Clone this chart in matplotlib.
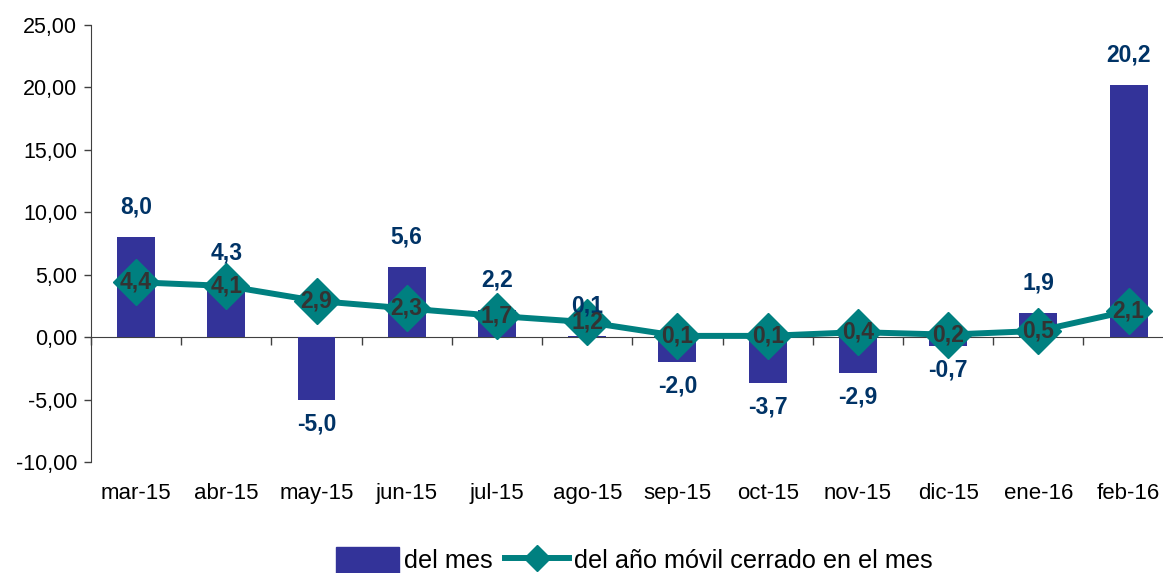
import matplotlib

matplotlib.use("Agg")
import matplotlib.pyplot as plt
import numpy as np
from matplotlib.lines import Line2D
from matplotlib.patches import Patch

plt.rcParams["font.family"] = ["Liberation Sans", "DejaVu Sans"]

# ── Data ──────────────────────────────────────────────
MONTHS = ["mar-15", "abr-15", "may-15", "jun-15", "jul-15", "ago-15",
          "sep-15", "oct-15", "nov-15", "dic-15", "ene-16", "feb-16"]
DEL_MES = [8.0, 4.3, -5.0, 5.6, 2.2, 0.1, -2.0, -3.7, -2.9, -0.7, 1.9, 20.2]
ANO_MOVIL = [4.4, 4.1, 2.9, 2.3, 1.7, 1.2, 0.1, 0.1, 0.4, 0.2, 0.5, 2.1]

BAR_COLOR = "#333399"
LINE_COLOR = "#008080"
BAR_LABEL_COLOR = "#003366"
LINE_LABEL_COLOR = "#333333"
AXIS_COLOR = "#404040"


def fmt(v, nd=1):
    return f"{v:.{nd}f}".replace(".", ",")


fig = plt.figure(figsize=(11.63, 5.73), dpi=100)
ax = fig.add_axes([0.0782, 0.1937, 0.931, 0.7627])
x = np.arange(len(MONTHS))

ax.bar(x, DEL_MES, width=0.42, color=BAR_COLOR, zorder=2)
ax.plot(x, ANO_MOVIL, color=LINE_COLOR, linewidth=4.3, marker="D",
        markersize=23, markerfacecolor=LINE_COLOR, markeredgecolor=LINE_COLOR,
        zorder=3, solid_capstyle="round")

# bar labels
for i, v in enumerate(DEL_MES):
    off = 30 if v >= 0 else -24
    ax.annotate(fmt(v), xy=(i, v), xytext=(0, off), textcoords="offset pixels",
                ha="center", va="center", fontsize=16.5, fontweight="bold",
                color=BAR_LABEL_COLOR, zorder=4)

# line labels
for i, v in enumerate(ANO_MOVIL):
    ax.annotate(fmt(v), xy=(i, v), xytext=(0, 0), textcoords="offset pixels",
                ha="center", va="center", fontsize=16.5, fontweight="bold",
                color=LINE_LABEL_COLOR, zorder=5)

# axes
ax.set_xlim(-0.5, 11.5)
ax.set_ylim(-10, 25)
ax.set_yticks(np.arange(-10, 26, 5))
ax.set_yticklabels([fmt(t, 2) for t in np.arange(-10, 26, 5)], fontsize=15.5)
ax.tick_params(axis="y", length=5, width=1, color=AXIS_COLOR, pad=5)

ax.spines["top"].set_visible(False)
ax.spines["right"].set_visible(False)
ax.spines["left"].set_color(AXIS_COLOR)
ax.spines["bottom"].set_position(("data", 0))
ax.spines["bottom"].set_color(AXIS_COLOR)
ax.spines["bottom"].set_zorder(1)
ax.set_xticks(np.arange(-0.5, 12, 1))
ax.set_xticklabels([])
ax.tick_params(axis="x", direction="out", length=6, width=1, color=AXIS_COLOR)

for i, m in enumerate(MONTHS):
    ax.annotate(m, xy=(i, 0), xycoords=("data", "axes fraction"),
                xytext=(0, -31), textcoords="offset pixels",
                ha="center", va="center", fontsize=16, color="black",
                annotation_clip=False)

handles = [
    Patch(facecolor=BAR_COLOR, edgecolor=BAR_COLOR),
    Line2D([0], [0], color=LINE_COLOR, linewidth=4.3, marker="D",
           markersize=13, markerfacecolor=LINE_COLOR, markeredgecolor=LINE_COLOR),
]
fig.legend(handles, ["del mes", "del año móvil cerrado en el mes"],
           loc="center", bbox_to_anchor=(634 / 1163, 1 - 560 / 573),
           ncol=2, frameon=False, fontsize=18.2, handlelength=2.5,
           handleheight=1.2, columnspacing=0.5, handletextpad=0.2)

fig.savefig("out.png", dpi=100)
